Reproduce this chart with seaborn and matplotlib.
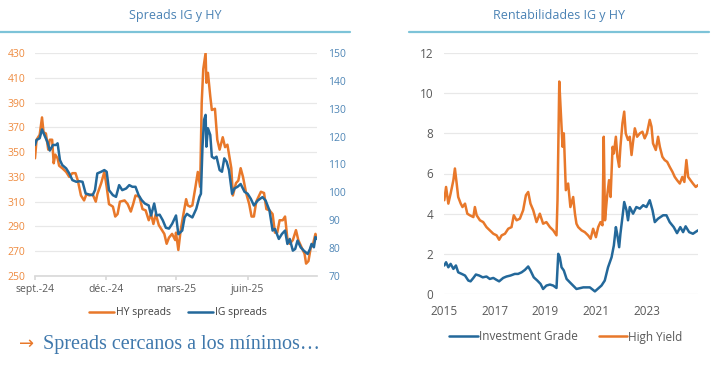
import pandas as pd
import matplotlib
matplotlib.use("Agg")
import matplotlib.pyplot as plt
from matplotlib.lines import Line2D
import seaborn as sns

# --- Data ---

# Left panel: days since 2024-09-01
hy_days = [0, 2, 6, 9, 11, 14, 17, 19, 22, 24, 26, 29, 31, 35, 40, 44, 48, 52, 55, 59,
           63, 66, 70, 74, 78, 80, 85, 89, 92, 95, 100, 103, 106, 109, 115, 119, 123, 126,
           129, 134, 138, 142, 146, 149, 152, 155, 159, 162, 166, 169, 172, 176, 180, 181,
           184, 187, 190, 194, 196, 199, 202, 206, 209, 212, 214, 216, 219, 220, 222, 225,
           227, 231, 234, 237, 241, 244, 247, 252, 254, 258, 261, 264, 267, 271, 275, 278,
           281, 284, 290, 294, 297, 301, 305, 308, 311, 314, 318, 321, 324, 327, 331, 335,
           338, 343, 346, 348, 351, 354, 357, 360, 362]
hy_spread = [345, 360, 364, 378, 366, 365, 352, 360, 360, 341, 348, 345, 339, 337, 334, 330,
             333, 333, 327, 315, 311, 316, 315, 316, 310, 316, 325, 334, 322, 308, 306, 298,
             300, 310, 311, 308, 302, 308, 315, 314, 304, 303, 295, 300, 292, 300, 291, 288,
             284, 276, 281, 284, 279, 285, 271, 287, 298, 312, 307, 306, 307, 322, 334, 322,
             390, 417, 430, 406, 414, 395, 384, 385, 360, 352, 362, 354, 356, 337, 315, 325,
             327, 337, 330, 317, 308, 298, 298, 310, 318, 317, 304, 303, 300, 285, 285, 295,
             295, 298, 280, 276, 279, 287, 279, 272, 268, 260, 262, 273, 276, 284, 280]

ig_days = [0, 2, 6, 9, 12, 16, 19, 23, 27, 29, 32, 35, 40, 44, 48, 53, 57, 61, 65, 70, 74,
           77, 80, 85, 89, 92, 95, 100, 104, 108, 112, 117, 121, 125, 129, 133, 137, 141,
           146, 149, 153, 156, 160, 164, 168, 172, 176, 181, 184, 189, 192, 195, 198, 202,
           207, 211, 213, 215, 217, 219, 220, 222, 225, 227, 230, 233, 237, 240, 243, 246,
           249, 253, 256, 260, 264, 269, 273, 277, 281, 286, 292, 296, 301, 305, 308, 313,
           317, 321, 324, 327, 331, 334, 337, 341, 345, 350, 353, 355, 358, 360, 362]
ig_spread = [117, 118.8, 119.4, 122.6, 120.6, 118, 115, 117, 117, 117.6, 111.6, 109.8, 108.6,
             106.8, 104.4, 103.8, 104, 103.8, 99.6, 99.2, 99, 100.8, 106.8, 107.4, 108, 107.4,
             100.8, 99, 98.4, 102.6, 100.8, 101.4, 102.6, 102, 102, 99, 97.2, 96, 95.3, 91.7,
             96, 91.7, 92, 90, 87.3, 87, 88.7, 91.7, 85, 86.3, 91, 92.3, 91.7, 91, 94.1, 98.3,
             99.5, 116.4, 126, 127.8, 116.4, 123, 120.6, 112.8, 112.2, 112.8, 108, 107.4, 112.2,
             111, 108, 99.5, 101.4, 102, 103, 100.2, 99.5, 97.7, 95.3, 97.1, 98.3, 97.1, 93.5,
             86.3, 86.9, 83.3, 85.1, 86.3, 81.5, 83.3, 79.1, 79.7, 82.7, 80.3, 79.1, 77.9, 79.7,
             81.5, 80.3, 84, 83.3]

spread_ticks = ['2024-09-01', '2024-12-01', '2025-03-01', '2025-06-01']
spread_labels = ['sept.-24', 'déc.-24', 'mars-25', 'juin-25']

# Right panel: decimal year as placed on the reference axis
hy_year = [2015.00, 2015.07, 2015.16, 2015.25, 2015.36, 2015.42, 2015.49, 2015.55, 2015.65,
           2015.72, 2015.82, 2015.91, 2016.01, 2016.15, 2016.21, 2016.28, 2016.41, 2016.54,
           2016.67, 2016.80, 2016.94, 2017.07, 2017.17, 2017.27, 2017.40, 2017.53, 2017.66,
           2017.75, 2017.86, 2017.99, 2018.12, 2018.23, 2018.32, 2018.41, 2018.52, 2018.65,
           2018.78, 2018.91, 2019.04, 2019.18, 2019.31, 2019.44, 2019.48, 2019.55, 2019.60,
           2019.68, 2019.73, 2019.81, 2019.90, 2019.99, 2020.10, 2020.17, 2020.23, 2020.30,
           2020.43, 2020.56, 2020.69, 2020.79, 2020.89, 2021.00, 2021.09, 2021.18, 2021.26,
           2021.31, 2021.36, 2021.44, 2021.52, 2021.58, 2021.66, 2021.71, 2021.79, 2021.85,
           2021.92, 2021.97, 2022.05, 2022.12, 2022.18, 2022.27, 2022.34, 2022.41, 2022.47,
           2022.54, 2022.63, 2022.74, 2022.84, 2022.93, 2023.02, 2023.13, 2023.20, 2023.26,
           2023.37, 2023.46, 2023.53, 2023.63, 2023.72, 2023.82, 2023.92, 2024.03, 2024.12,
           2024.21, 2024.32, 2024.42, 2024.50, 2024.58, 2024.65, 2024.74, 2024.84, 2024.95,
           2025.04]
hy_yield = [4.67, 5.33, 4.5, 5.0, 5.67, 6.25, 5.5, 4.83, 4.5, 4.33, 4.5, 4.0, 3.92, 3.83,
            4.33, 3.92, 3.67, 3.58, 3.33, 3.17, 3.0, 2.92, 2.7, 2.92, 3.0, 3.25, 3.33, 3.92,
            3.67, 3.75, 4.17, 4.92, 5.08, 4.5, 4.17, 3.58, 4.0, 3.5, 3.58, 3.33, 3.17, 2.92,
            4.67, 10.58, 9.33, 7.33, 8.0, 5.17, 5.5, 4.33, 4.83, 4.0, 3.5, 3.33, 3.17, 3.08,
            2.92, 2.75, 3.25, 2.83, 3.33, 3.58, 3.42, 7.83, 3.67, 4.83, 5.67, 4.83, 7.33, 7.0,
            7.83, 6.83, 6.33, 7.33, 8.5, 9.08, 8.0, 7.67, 7.83, 6.92, 7.58, 8.25, 7.83, 8.0,
            8.08, 7.75, 8.0, 8.67, 8.33, 7.5, 7.17, 7.83, 7.33, 6.83, 6.67, 6.58, 6.33, 6.08,
            5.83, 5.67, 5.5, 5.83, 5.58, 6.67, 5.83, 5.67, 5.5, 5.33, 5.42]

ig_year = [2015.00, 2015.07, 2015.16, 2015.25, 2015.36, 2015.46, 2015.55, 2015.69, 2015.82,
           2015.95, 2016.04, 2016.15, 2016.25, 2016.38, 2016.52, 2016.67, 2016.80, 2016.94,
           2017.07, 2017.17, 2017.33, 2017.46, 2017.62, 2017.79, 2017.92, 2018.06, 2018.19,
           2018.32, 2018.41, 2018.54, 2018.68, 2018.81, 2018.91, 2019.04, 2019.18, 2019.31,
           2019.44, 2019.51, 2019.57, 2019.64, 2019.73, 2019.84, 2019.97, 2020.23, 2020.50,
           2020.76, 2020.96, 2021.22, 2021.35, 2021.48, 2021.62, 2021.71, 2021.79, 2021.84,
           2021.92, 2021.97, 2022.05, 2022.12, 2022.21, 2022.27, 2022.34, 2022.47, 2022.60,
           2022.74, 2022.87, 2023.00, 2023.13, 2023.24, 2023.33, 2023.46, 2023.66, 2023.79,
           2023.92, 2024.08, 2024.21, 2024.34, 2024.45, 2024.55, 2024.69, 2024.84, 2025.04]
ig_yield = [1.42, 1.58, 1.33, 1.5, 1.25, 1.42, 1.08, 1.0, 0.92, 0.67, 0.63, 0.8, 0.97, 0.92,
            0.83, 0.87, 0.75, 0.8, 0.7, 0.63, 0.8, 0.87, 0.92, 1.0, 1.0, 1.08, 1.2, 1.37, 1.17,
            0.83, 0.67, 0.5, 0.25, 0.42, 0.47, 0.42, 0.3, 2.0, 1.83, 1.33, 1.17, 0.75, 0.58,
            0.25, 0.33, 0.33, 0.13, 0.42, 0.67, 1.33, 1.83, 2.42, 3.33, 3.0, 2.33, 3.0, 3.83,
            4.58, 4.17, 3.67, 4.33, 4.0, 4.33, 4.25, 4.42, 4.33, 4.67, 4.17, 3.58, 3.75, 3.92,
            3.92, 3.58, 3.33, 3.03, 3.33, 3.08, 3.37, 3.08, 3.0, 3.17]

year_ticks = [2015, 2017, 2019, 2021, 2023]

# --- Styling ---
ORANGE = '#E8782A'
BLUE = '#23689A'
TITLE_BLUE = '#4A82B4'
GRID = '#E8E8E8'
TXT = '#595959'

W, H = 722, 365
sns.set_theme(style='white')
plt.rcParams['font.family'] = ['Open Sans', 'DejaVu Sans']

fig = plt.figure(figsize=(W / 100, H / 100), dpi=100)


def fx(px):
    return px / W


def fy(py):
    return 1 - py / H


start = pd.Timestamp('2024-09-01')
hy_dates = start + pd.to_timedelta(hy_days, unit='D')
ig_dates = start + pd.to_timedelta(ig_days, unit='D')

# --- Left panel: spreads ---
ax1 = fig.add_axes([fx(35), fy(276), fx(282), 223 / H])
ax2 = ax1.twinx()
sns.lineplot(x=hy_dates, y=hy_spread, ax=ax1, color=ORANGE, lw=1.8)
sns.lineplot(x=ig_dates, y=ig_spread, ax=ax2, color=BLUE, lw=1.8)

ax1.set_ylim(250, 430)
ax1.set_yticks(range(250, 431, 20))
ax2.set_ylim(70, 150)
ax2.set_yticks(range(70, 151, 10))
ax1.set_xlim(start, start + pd.Timedelta(days=362))
ax1.set_xticks(pd.to_datetime(spread_ticks))
ax1.set_xticklabels(spread_labels)
ax1.grid(axis='y', color=GRID, lw=0.9)
ax1.set_axisbelow(True)
for ax in (ax1, ax2):
    for s in ax.spines.values():
        s.set_visible(False)
    ax.set_xlabel('')
    ax.set_ylabel('')
ax1.spines['bottom'].set_visible(True)
ax1.spines['bottom'].set_color('#D9D9D9')
ax1.tick_params(axis='y', length=0, pad=7, labelsize=7.5, labelcolor='#EE8A3E')
ax2.tick_params(axis='y', length=0, pad=8, labelsize=7.5, labelcolor='#4F86B6')
ax1.tick_params(axis='x', length=3, color='#D9D9D9', pad=3, labelsize=7.5, labelcolor=TXT,
                bottom=True)

fig.text(fx(175), fy(15), 'Spreads IG y HY', ha='center', va='center',
         fontsize=9, color=TITLE_BLUE)
fig.add_artist(Line2D([0, fx(350)], [fy(32), fy(32)], color='#7DC3D8', lw=1.6))

fig.legend(handles=[Line2D([], [], color=ORANGE, lw=1.8, label='HY spreads'),
                    Line2D([], [], color=BLUE, lw=1.8, label='IG spreads')],
           loc='center', bbox_to_anchor=(fx(178), fy(313)), ncol=2, frameon=False,
           fontsize=7.5, labelcolor='#404040', handlelength=2.4, handletextpad=0.2,
           columnspacing=1.6)

fig.text(fx(19), fy(344), '\u2192', ha='left', va='center', fontsize=13,
         color=ORANGE, family='DejaVu Sans')
fig.text(fx(43), fy(345), 'Spreads cercanos a los mínimos\u2026', ha='left', va='center',
         fontsize=14.5, color='#3F78AC', family=['Liberation Serif', 'DejaVu Serif'])

# --- Right panel: yields ---
ax3 = fig.add_axes([fx(444.3), fy(294), fx(253.7), 241 / H])
sns.lineplot(x=ig_year, y=ig_yield, ax=ax3, color=BLUE, lw=1.8)
sns.lineplot(x=hy_year, y=hy_yield, ax=ax3, color=ORANGE, lw=1.8)
ax3.set_ylim(0, 12)
ax3.set_yticks(range(0, 13, 2))
ax3.set_xlim(2015, 2025.04)
ax3.set_xticks(year_ticks)
ax3.grid(axis='y', color=GRID, lw=0.9)
ax3.set_axisbelow(True)
for s in ax3.spines.values():
    s.set_visible(False)
ax3.set_xlabel('')
ax3.set_ylabel('')
ax3.tick_params(axis='y', length=0, pad=8, labelsize=8.5, labelcolor=TXT)
ax3.tick_params(axis='x', length=0, pad=8, labelsize=8.5, labelcolor=TXT)

fig.text(fx(559), fy(15), 'Rentabilidades IG y HY', ha='center', va='center',
         fontsize=9, color=TITLE_BLUE)
fig.add_artist(Line2D([fx(409), fx(709)], [fy(32), fy(32)], color='#7DC3D8', lw=1.6))

fig.legend(handles=[Line2D([], [], color=BLUE, lw=1.8, label='Investment Grade'),
                    Line2D([], [], color=ORANGE, lw=1.8, label='High Yield')],
           loc='center', bbox_to_anchor=(fx(566), fy(337)), ncol=2, frameon=False,
           fontsize=8.5, labelcolor=TXT, handlelength=2.4, handletextpad=0.1,
           columnspacing=1.8)

fig.savefig('out.png', dpi=100)
